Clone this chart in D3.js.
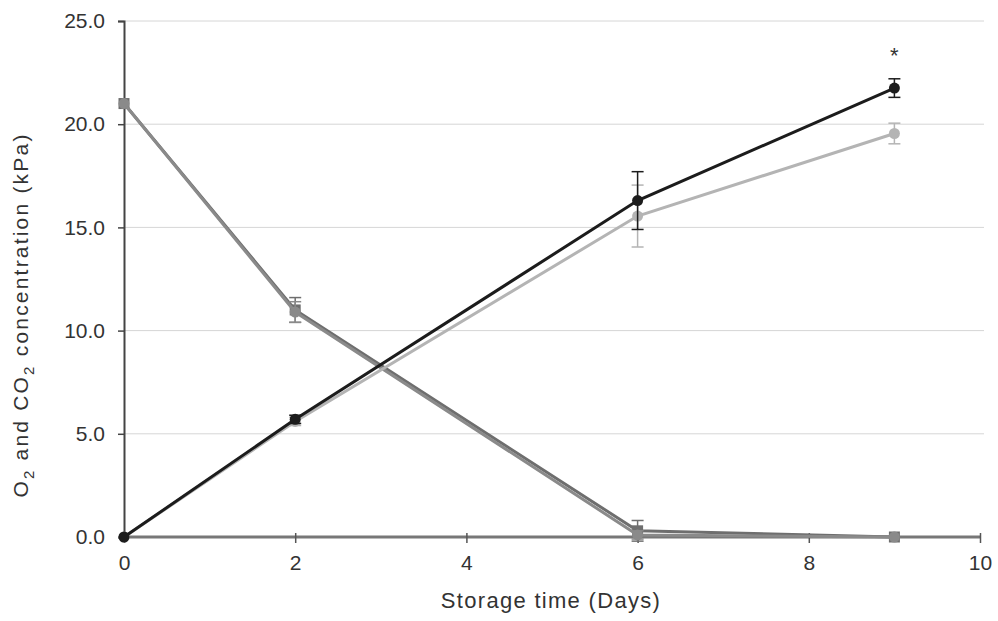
<!DOCTYPE html>
<html>
<head>
<meta charset="utf-8">
<script src="https://cdn.jsdelivr.net/npm/d3@7"></script>
<style>
    body { margin: 0; background: #fff; }
    svg text { font-family: "Liberation Sans", Arial, sans-serif; fill: #333; }
</style>
</head>
<body>
<div id="chart"></div>
<script>
// Storage days and gas concentrations (kPa)
const days = [0, 2, 6, 9];

const co2Control = [0, 5.7, 16.3, 21.75];
const co2ControlErr = [0, 0.2, 1.4, 0.45];

const co2Treated = [0, 5.6, 15.55, 19.55];
const co2TreatedErr = [0, 0.2, 1.5, 0.5];

const o2Control = [21.0, 11.0, 0.3, 0];
const o2ControlErr = [0, 0.6, 0.5, 0];

const o2Treated = [21.0, 10.9, 0.1, 0];
const o2TreatedErr = [0, 0.5, 0.2, 0];

const xTicks = [0, 2, 4, 6, 8, 10];
const yTicks = [0, 5, 10, 15, 20, 25];

const series = [
    {name: "O2 control", values: o2Control, err: o2ControlErr, color: "#6e6e6e", marker: "square"},
    {name: "O2 treated", values: o2Treated, err: o2TreatedErr, color: "#8a8a8a", marker: "circle"},
    {name: "CO2 treated", values: co2Treated, err: co2TreatedErr, color: "#b4b4b4", marker: "circle"},
    {name: "CO2 control", values: co2Control, err: co2ControlErr, color: "#1c1c1c", marker: "circle"}
];

const W = 998, H = 621;
const margin = {top: 21, right: 18, bottom: 84, left: 124};
const height = H - margin.top - margin.bottom;

const svg = d3.select("#chart").append("svg")
    .attr("width", W)
    .attr("height", H);

const g = svg.append("g")
    .attr("transform", `translate(${margin.left},${margin.top})`);

const x = d3.scaleLinear().domain([0, 10]).range([0, 856]);
const y = d3.scaleLinear().domain([0, 25]).range([height, 0]);

// Horizontal gridlines
g.selectAll(".grid")
    .data(yTicks.filter(d => d > 0))
    .enter()
    .append("line")
    .attr("x1", 0)
    .attr("x2", x(10) + 4)
    .attr("y1", d => y(d))
    .attr("y2", d => y(d))
    .style("stroke", "#d6d6d6")
    .style("stroke-width", 1);

// Y axis
const yAxis = g.append("g")
    .call(d3.axisLeft(y).tickValues(yTicks).tickFormat(d3.format(".1f")).tickSize(6).tickPadding(13));
yAxis.select(".domain").style("stroke", "#444").style("stroke-width", 2);
yAxis.selectAll(".tick line").style("stroke", "#444").style("stroke-width", 1.5);
yAxis.selectAll(".tick text").style("font-size", "21px").style("fill", "#333");

// X axis
const xAxis = g.append("g")
    .attr("transform", `translate(0,${height})`)
    .call(d3.axisBottom(x).tickValues(xTicks).tickSize(6).tickPadding(12));
xAxis.select(".domain").attr("d", `M0,0H${x(10)}`).style("stroke", "#777").style("stroke-width", 3);
xAxis.selectAll(".tick line").attr("y1", -4).style("stroke", "#555").style("stroke-width", 1.5);
xAxis.selectAll(".tick text").style("font-size", "21px").style("fill", "#333");

// Axis titles
svg.append("text")
    .attr("x", 551)
    .attr("y", 608)
    .attr("text-anchor", "middle")
    .style("font-size", "22px")
    .style("letter-spacing", "1.3px")
    .text("Storage time (Days)");

const yTitle = svg.append("text")
    .attr("transform", "translate(28,315) rotate(-90)")
    .attr("text-anchor", "middle")
    .style("font-size", "21px")
    .style("letter-spacing", "2.2px");
yTitle.append("tspan").text("O");
yTitle.append("tspan").attr("dy", 6).style("font-size", "15px").text("2");
yTitle.append("tspan").attr("dy", -6).text(" and CO");
yTitle.append("tspan").attr("dy", 6).style("font-size", "15px").text("2");
yTitle.append("tspan").attr("dy", -6).text(" concentration (kPa)");

const line = d3.line()
    .x((d, i) => x(days[i]))
    .y(d => y(d));

series.forEach(s => {
    const sg = g.append("g");

    // error bars
    s.values.forEach((v, i) => {
        if (!s.err[i]) return;
        const cx = x(days[i]);
        const y0 = y(v - s.err[i]), y1 = y(v + s.err[i]);
        sg.append("line")
            .attr("x1", cx).attr("x2", cx).attr("y1", y0).attr("y2", y1)
            .style("stroke", s.color).style("stroke-width", 1.5);
        [y0, y1].forEach(yy => {
            sg.append("line")
                .attr("x1", cx - 6).attr("x2", cx + 6).attr("y1", yy).attr("y2", yy)
                .style("stroke", s.color).style("stroke-width", 1.5);
        });
    });

    sg.append("path")
        .datum(s.values)
        .attr("d", line)
        .style("fill", "none")
        .style("stroke", s.color)
        .style("stroke-width", 3);

    if (s.marker === "circle") {
        sg.selectAll("circle")
            .data(s.values)
            .enter()
            .append("circle")
            .attr("cx", (d, i) => x(days[i]))
            .attr("cy", d => y(d))
            .attr("r", 5.5)
            .style("fill", s.color);
    } else {
        sg.selectAll("rect")
            .data(s.values)
            .enter()
            .append("rect")
            .attr("x", (d, i) => x(days[i]) - 5.5)
            .attr("y", d => y(d) - 5.5)
            .attr("width", 11)
            .attr("height", 11)
            .style("fill", s.color);
    }
});

// Significance marker at day 9
g.append("text")
    .attr("x", x(9))
    .attr("y", y(co2Control[3] + 1.2))
    .attr("text-anchor", "middle")
    .style("font-size", "22px")
    .style("fill", "#333")
    .text("*");
</script>
</body>
</html>
